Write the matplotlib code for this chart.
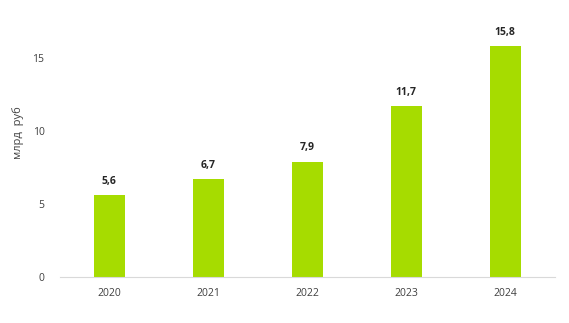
import numpy as np
from matplotlib import pyplot as plt

# Values by year, bln rub
years = ['2020', '2021', '2022', '2023', '2024']
values = [5.6, 6.7, 7.9, 11.7, 15.8]
y_ticks = [0, 5, 10, 15]

plt.rcParams['font.family'] = ['Open Sans', 'DejaVu Sans']

fig = plt.figure(figsize=(5.69, 3.23), dpi=100)
ax = fig.add_axes([0.105, 0.142, 0.87, 0.815])

x = np.arange(len(years))
bars = ax.bar(x, values, width=0.31, color='#a6dc00', zorder=2)

# value labels above bars, with comma decimals
for xi, v in zip(x, values):
    ax.annotate(f'{v:.1f}'.replace('.', ','), (xi, v),
                xytext=(0, 6), textcoords='offset points',
                ha='center', va='bottom', fontsize=7.5,
                fontweight='bold', color='#262626')

ax.set_xlim(-0.5, 4.5)
ax.set_ylim(0, 18)
ax.set_xticks(x)
ax.set_xticklabels(years)
ax.set_yticks(y_ticks)
ax.tick_params(axis='both', length=0, labelsize=7.5, colors='#404040')
ax.tick_params(axis='y', pad=11)
ax.tick_params(axis='x', pad=8)

for side in ['top', 'right', 'left']:
    ax.spines[side].set_visible(False)
ax.spines['bottom'].set_color('#d9d9d9')

ax.set_ylabel('млрд  руб', fontsize=8, color='#404040')
ax.yaxis.set_label_coords(-0.073, 0.55)

fig.savefig('out.png', dpi=100)
